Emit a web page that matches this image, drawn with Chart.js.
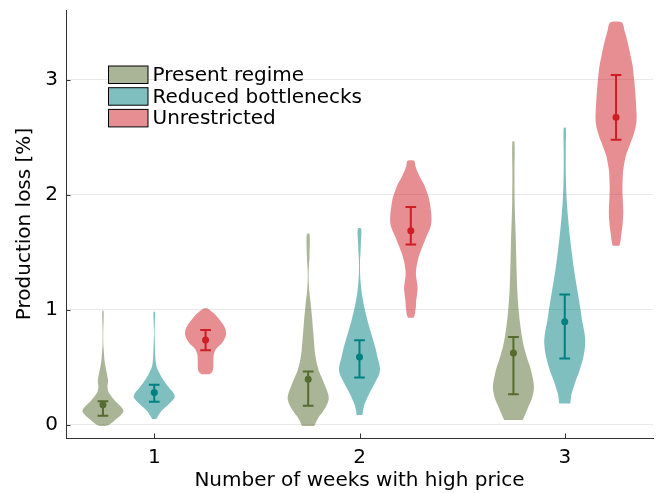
<!DOCTYPE html>
<html>
<head>
<meta charset="utf-8">
<title>Production loss by weeks with high price</title>
<script src="https://cdn.jsdelivr.net/npm/chart.js@4.4.1/dist/chart.umd.min.js"></script>
<style>
  html, body { margin: 0; padding: 0; background: #ffffff; }
  canvas { display: block; }
</style>
</head>
<body>
<canvas id="chart" width="659" height="493"></canvas>
<script>
// Categories and series
const weeks = [1, 2, 3];
const seriesNames = ['Present regime', 'Reduced bottlenecks', 'Unrestricted'];
const yTicks = [0, 1, 2, 3];

// Centre point and whisker ends for each week
const presentMid  = [0.175, 0.396, 0.624];
const presentLow  = [0.078, 0.165, 0.266];
const presentHigh = [0.205, 0.463, 0.763];
const reducedMid  = [0.280, 0.589, 0.896];
const reducedLow  = [0.200, 0.410, 0.575];
const reducedHigh = [0.347, 0.734, 1.133];
const unrestrictedMid  = [0.737, 1.687, 2.672];
const unrestrictedLow  = [0.647, 1.566, 2.478];
const unrestrictedHigh = [0.823, 1.892, 3.039];

// Violin profiles: [production loss %, relative density], bottom to top
const presentWeek1 = [[-0.01, 0.12], [0.0, 0.3], [0.04, 0.58], [0.08, 0.85], [0.12, 1.0], [0.16, 0.86], [0.2, 0.63],
  [0.25, 0.4], [0.29, 0.26], [0.33, 0.22], [0.38, 0.25], [0.44, 0.2], [0.5, 0.13], [0.555, 0.08], [0.62, 0.05],
  [0.7, 0.02], [0.8, 0.015], [0.9, 0.03], [0.99, 0.03]];
const presentWeek2 = [[-0.01, 0.3], [0.03, 0.4], [0.064, 0.5], [0.1, 0.66], [0.136, 0.8], [0.18, 0.93], [0.223, 1.0],
  [0.26, 0.98], [0.295, 0.92], [0.35, 0.8], [0.41, 0.66], [0.47, 0.52], [0.526, 0.43], [0.58, 0.37], [0.641, 0.32],
  [0.73, 0.28], [0.815, 0.24], [0.931, 0.19], [1.0, 0.15], [1.075, 0.11], [1.17, 0.05], [1.277, 0.02], [1.36, 0.03],
  [1.451, 0.06], [1.658, 0.065]];
const presentWeek3 = [[0.041, 0.45], [0.08, 0.55], [0.121, 0.65], [0.165, 0.75], [0.208, 0.86], [0.26, 0.95], [0.324, 1.0],
  [0.38, 0.97], [0.44, 0.9], [0.497, 0.82], [0.56, 0.7], [0.62, 0.6], [0.671, 0.52], [0.75, 0.43], [0.844, 0.35],
  [0.95, 0.28], [1.075, 0.22], [1.2, 0.18], [1.364, 0.15], [1.5, 0.13], [1.652, 0.11], [1.8, 0.08], [1.941, 0.06],
  [2.2, 0.05], [2.461, 0.05]];
const reducedWeek1 = [[0.05, 0.1], [0.08, 0.2], [0.12, 0.35], [0.16, 0.6], [0.2, 0.82], [0.24, 1.0], [0.28, 0.92],
  [0.31, 0.77], [0.35, 0.6], [0.38, 0.48], [0.44, 0.28], [0.5, 0.12], [0.55, 0.07], [0.6, 0.05], [0.7, 0.03],
  [0.8, 0.015], [0.9, 0.03], [0.98, 0.035]];
const reducedWeek2 = [[0.085, 0.14], [0.12, 0.17], [0.165, 0.22], [0.21, 0.32], [0.266, 0.46], [0.32, 0.62], [0.381, 0.8],
  [0.43, 0.94], [0.483, 1.0], [0.53, 0.96], [0.584, 0.88], [0.65, 0.8], [0.728, 0.68], [0.8, 0.56], [0.873, 0.44],
  [0.95, 0.33], [1.017, 0.24], [1.09, 0.16], [1.161, 0.1], [1.23, 0.06], [1.306, 0.03], [1.42, 0.025], [1.5, 0.05],
  [1.566, 0.065], [1.704, 0.08]];
const reducedWeek3 = [[0.185, 0.27], [0.23, 0.3], [0.266, 0.33], [0.32, 0.42], [0.381, 0.53], [0.45, 0.68], [0.555, 0.86],
  [0.64, 0.96], [0.728, 1.0], [0.81, 0.95], [0.901, 0.85], [1.0, 0.77], [1.133, 0.65], [1.25, 0.54], [1.364, 0.44],
  [1.5, 0.34], [1.652, 0.24], [1.8, 0.16], [1.941, 0.1], [2.08, 0.065], [2.23, 0.05], [2.4, 0.05], [2.58, 0.05]];
const unrestrictedWeek1 = [[0.44, 0.2], [0.46, 0.33], [0.5, 0.38], [0.56, 0.38], [0.61, 0.4], [0.66, 0.52], [0.71, 0.8],
  [0.77, 0.98], [0.8, 1.0], [0.84, 0.95], [0.88, 0.82], [0.92, 0.65], [0.96, 0.45], [0.99, 0.25], [1.01, 0.1]];
const unrestrictedWeek2 = [[0.931, 0.14], [0.96, 0.2], [0.988, 0.22], [1.03, 0.25], [1.075, 0.26], [1.13, 0.3], [1.191, 0.33],
  [1.25, 0.29], [1.306, 0.25], [1.36, 0.27], [1.421, 0.33], [1.48, 0.42], [1.537, 0.54], [1.6, 0.68], [1.652, 0.8],
  [1.7, 0.92], [1.754, 1.0], [1.826, 1.0], [1.9, 0.95], [1.97, 0.88], [2.03, 0.77], [2.086, 0.65], [2.14, 0.48],
  [2.201, 0.32], [2.25, 0.22], [2.294, 0.16]];
const unrestrictedWeek3 = [[1.557, 0.16], [1.6, 0.22], [1.652, 0.25], [1.71, 0.3], [1.768, 0.33], [1.84, 0.35], [1.913, 0.34],
  [1.98, 0.32], [2.057, 0.31], [2.13, 0.32], [2.201, 0.34], [2.27, 0.4], [2.346, 0.49], [2.4, 0.6], [2.461, 0.73],
  [2.52, 0.85], [2.577, 0.94], [2.63, 0.99], [2.692, 1.0], [2.8, 0.97], [2.924, 0.92], [3.02, 0.87], [3.126, 0.8],
  [3.23, 0.68], [3.328, 0.56], [3.42, 0.42], [3.496, 0.28]];

// Styling
const baseColors = ['rgb(85,107,47)', 'rgb(0,128,128)', 'rgb(205,30,38)'];
const fillColors = ['rgba(85,107,47,0.5)', 'rgba(0,128,128,0.5)', 'rgba(205,30,38,0.5)'];
const FONT = 'DejaVu Sans';
const violinHalfWidth = 0.1;
const dodge = [-0.25, 0, 0.25];
const capHalf = 0.026;

const profiles = [
  [presentWeek1, presentWeek2, presentWeek3],
  [reducedWeek1, reducedWeek2, reducedWeek3],
  [unrestrictedWeek1, unrestrictedWeek2, unrestrictedWeek3]
];
const mids = [presentMid, reducedMid, unrestrictedMid];
const lows = [presentLow, reducedLow, unrestrictedLow];
const highs = [presentHigh, reducedHigh, unrestrictedHigh];

// Closed outline: right edge upwards, then left edge downwards
function outline(profile, centre) {
  const right = profile.map(([v, d]) => ({ x: centre + d * violinHalfWidth, y: v }));
  const left = profile.slice().reverse().map(([v, d]) => ({ x: centre - d * violinHalfWidth, y: v }));
  return right.concat(left);
}

// Whiskers with caps, separated by gaps
function whiskers(s) {
  const pts = [];
  weeks.forEach((w, i) => {
    const x = w + dodge[s];
    const lo = lows[s][i], hi = highs[s][i];
    pts.push({ x, y: lo }, { x, y: hi }, { x, y: null });
    pts.push({ x: x - capHalf, y: lo }, { x: x + capHalf, y: lo }, { x, y: null });
    pts.push({ x: x - capHalf, y: hi }, { x: x + capHalf, y: hi }, { x, y: null });
  });
  return pts;
}

const datasets = [];
seriesNames.forEach((name, s) => {
  weeks.forEach((w, i) => {
    datasets.push({
      label: name,
      data: outline(profiles[s][i], w + dodge[s]),
      showLine: true,
      fill: 'shape',
      backgroundColor: fillColors[s],
      borderColor: 'rgba(0,0,0,0)',
      borderWidth: 0,
      pointRadius: 0,
      tension: 0.3,
      order: 2
    });
  });
  datasets.push({
    label: name + ' range',
    data: whiskers(s),
    showLine: true,
    spanGaps: false,
    fill: false,
    borderColor: baseColors[s],
    borderWidth: 2,
    pointRadius: 0,
    tension: 0,
    order: 1
  });
  datasets.push({
    label: name + ' centre',
    data: weeks.map((w, i) => ({ x: w + dodge[s], y: mids[s][i] })),
    showLine: false,
    pointRadius: 3.5,
    pointBackgroundColor: baseColors[s],
    pointBorderWidth: 0,
    order: 0
  });
});

// Legend drawn inside the plot area
const insetLegend = {
  id: 'insetLegend',
  afterDatasetsDraw(chart) {
    const { ctx, chartArea } = chart;
    const x0 = chartArea.left + 42.5;
    const y0 = chartArea.top + 56;
    const bw = 39.5, bh = 17.5, step = 21.7;
    ctx.save();
    ctx.font = '20px "' + FONT + '"';
    ctx.textBaseline = 'middle';
    ctx.textAlign = 'left';
    seriesNames.forEach((name, s) => {
      const y = y0 + s * step;
      ctx.fillStyle = '#ffffff';
      ctx.fillRect(x0, y, bw, bh);
      ctx.fillStyle = fillColors[s];
      ctx.fillRect(x0, y, bw, bh);
      ctx.strokeStyle = '#000000';
      ctx.lineWidth = 1;
      ctx.strokeRect(x0, y, bw, bh);
      ctx.fillStyle = '#000000';
      ctx.fillText(name, x0 + bw + 4.5, y + bh / 2 + 1);
    });
    ctx.restore();
  }
};

// Short tick marks pointing into the plot area
const innerTicks = {
  id: 'innerTicks',
  afterDraw(chart) {
    const { ctx, chartArea, scales } = chart;
    ctx.save();
    ctx.strokeStyle = '#333333';
    ctx.lineWidth = 1;
    ctx.beginPath();
    yTicks.forEach(v => {
      const y = Math.round(scales.y.getPixelForValue(v)) + 0.5;
      ctx.moveTo(chartArea.left, y);
      ctx.lineTo(chartArea.left + 4.5, y);
    });
    weeks.forEach(v => {
      const x = Math.round(scales.x.getPixelForValue(v)) + 0.5;
      ctx.moveTo(x, chartArea.bottom);
      ctx.lineTo(x, chartArea.bottom - 4.5);
    });
    ctx.stroke();
    ctx.restore();
  }
};

Chart.defaults.color = '#000000';
Chart.defaults.font.family = FONT;

new Chart(document.getElementById('chart'), {
  type: 'scatter',
  data: { datasets },
  plugins: [insetLegend, innerTicks],
  options: {
    responsive: false,
    animation: false,
    events: [],
    layout: { padding: { left: 0, right: 6, top: 10, bottom: 0 } },
    plugins: { legend: { display: false }, tooltip: { enabled: false } },
    scales: {
      x: {
        type: 'linear',
        position: 'bottom',
        min: 0.57,
        max: 3.43,
        afterBuildTicks: sc => { sc.ticks = weeks.map(v => ({ value: v })); },
        afterFit: sc => { sc.height = 55; sc.paddingLeft = 0; sc.paddingRight = 0; },
        grid: { drawOnChartArea: false, drawTicks: false },
        border: { display: true, color: '#333333', width: 1 },
        ticks: { font: { size: 20 }, padding: 8, maxRotation: 0, callback: v => String(v) },
        title: { display: true, text: 'Number of weeks with high price', font: { size: 20 }, padding: { top: 0, bottom: 0 } }
      },
      y: {
        type: 'linear',
        min: -0.115,
        max: 3.605,
        afterBuildTicks: sc => { sc.ticks = yTicks.map(v => ({ value: v })); },
        afterFit: sc => { sc.width = 66; sc.paddingTop = 0; sc.paddingBottom = 0; },
        grid: { color: 'rgba(0,0,0,0.09)', lineWidth: 1, drawTicks: false },
        border: { display: true, color: '#333333', width: 1 },
        ticks: { font: { size: 20 }, padding: 8, callback: v => String(v) },
        title: { display: true, text: 'Production loss [%]', font: { size: 20 }, padding: { top: 13, bottom: 0 } }
      }
    }
  }
});
</script>
</body>
</html>
